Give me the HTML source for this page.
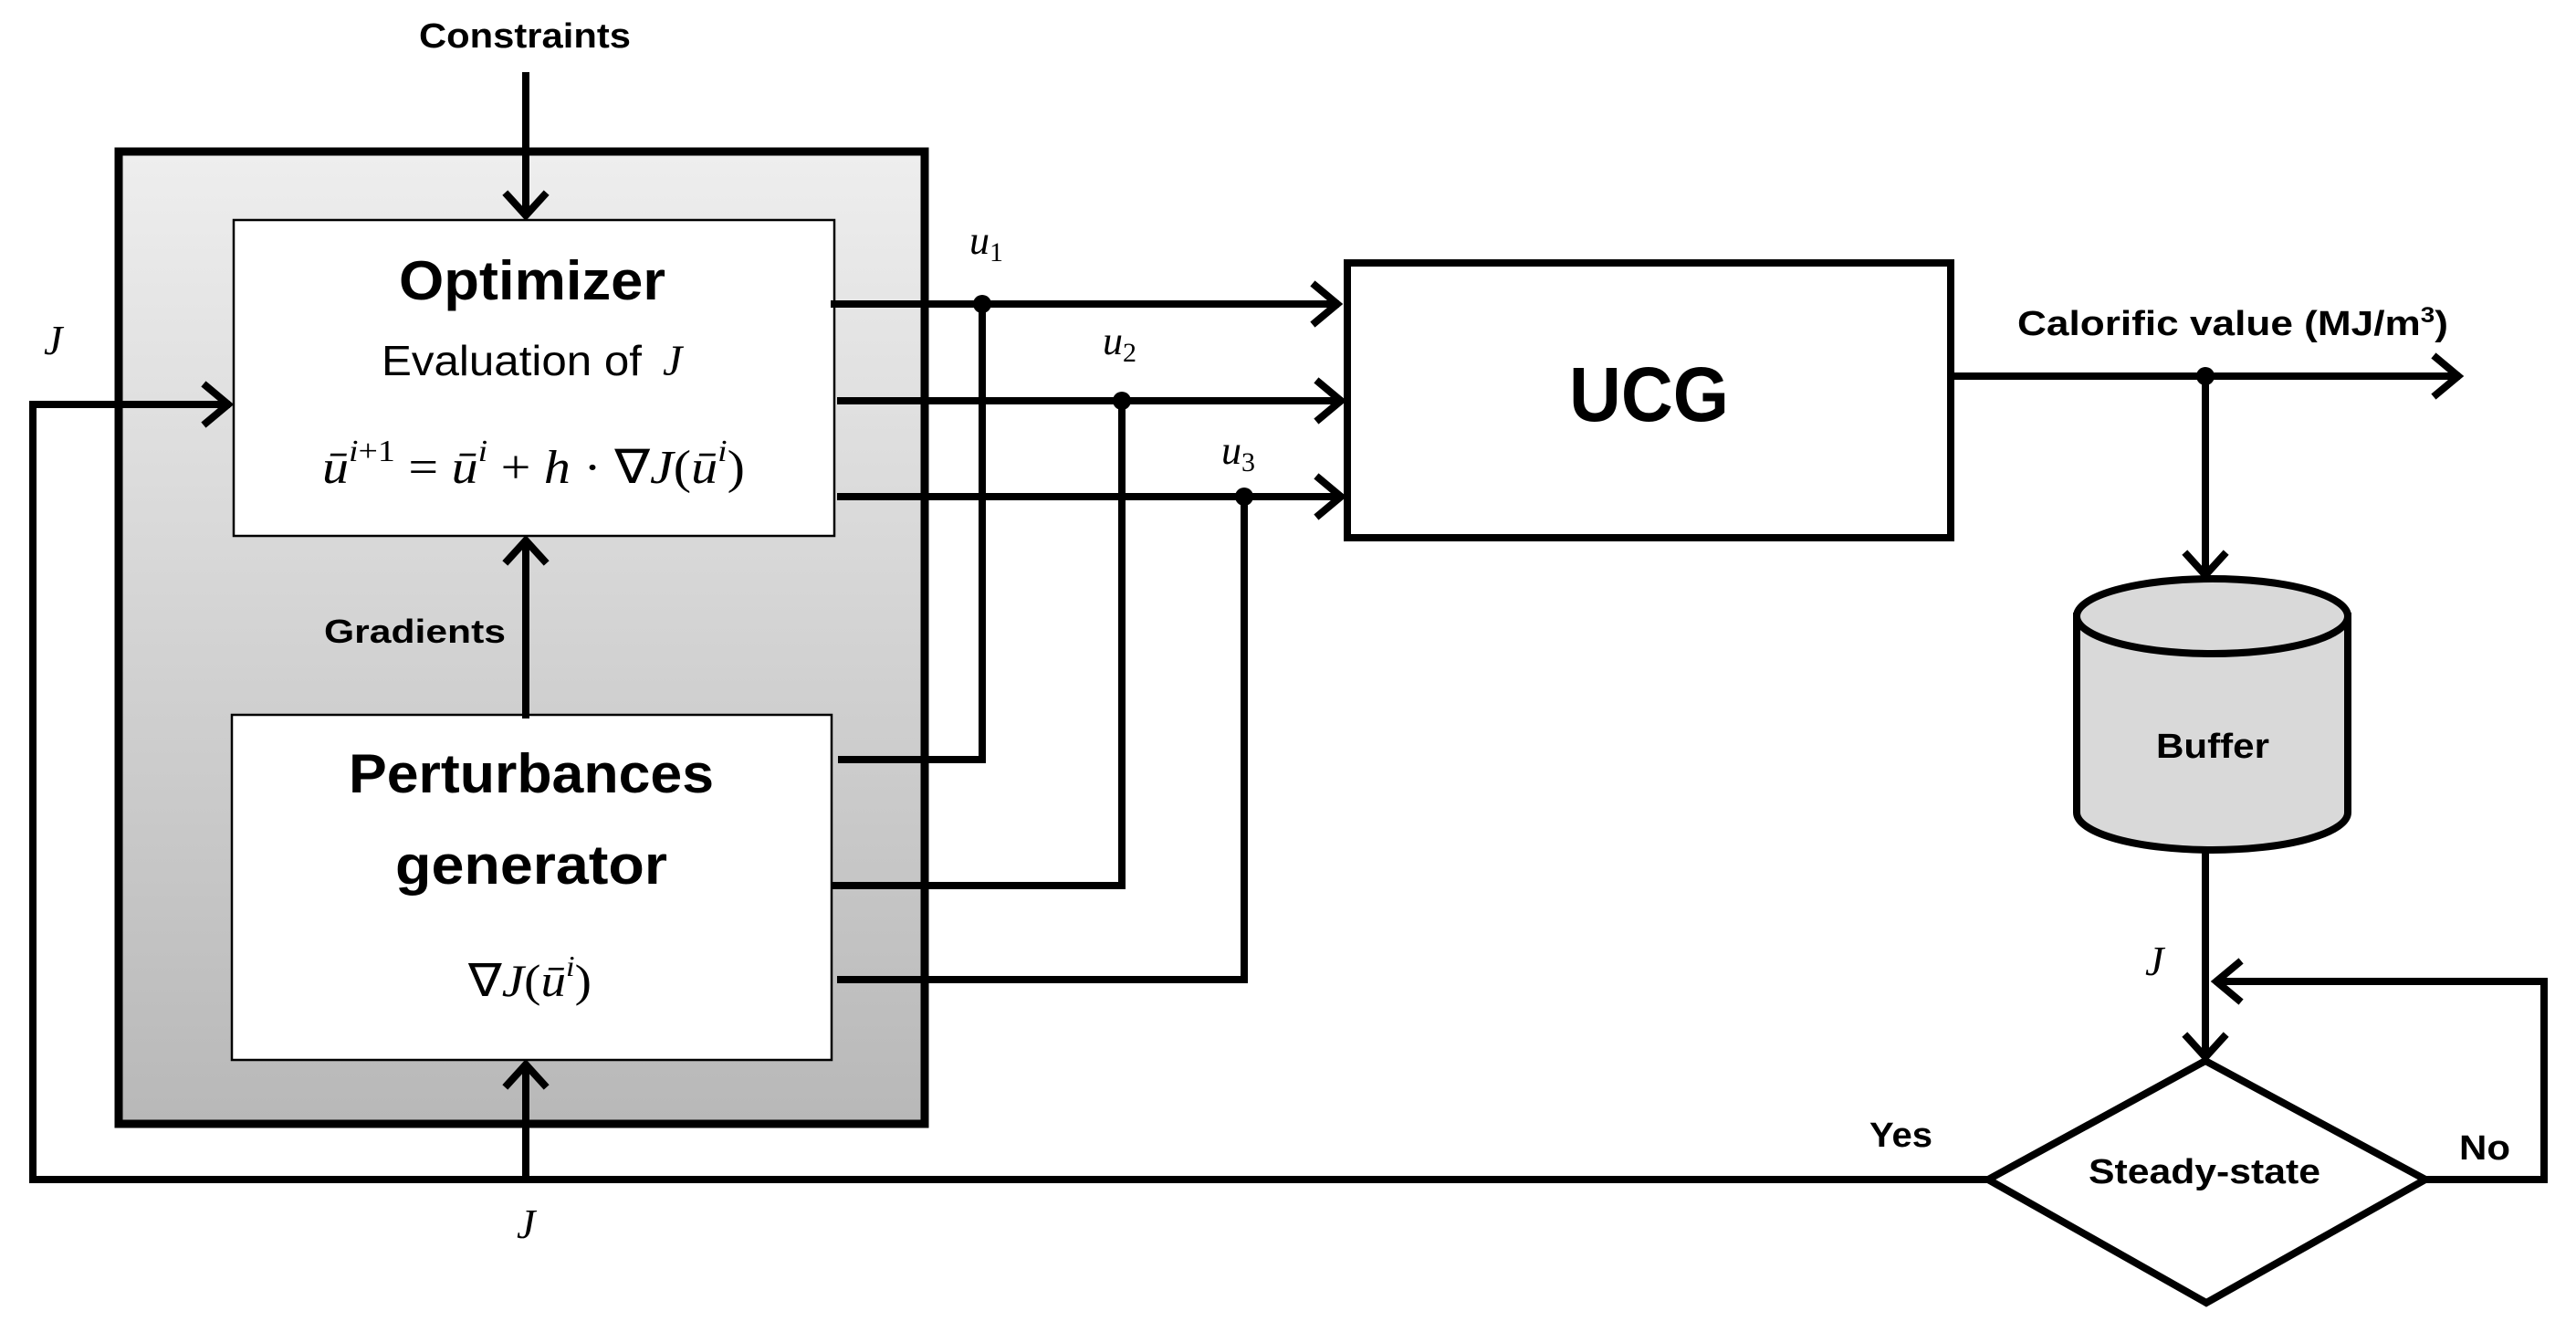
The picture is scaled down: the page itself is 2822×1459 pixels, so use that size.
<!DOCTYPE html>
<html><head><meta charset="utf-8"><style>
html,body{margin:0;padding:0;background:#fff;}
svg{display:block;}
.b{font-family:"Liberation Sans",sans-serif;font-weight:bold;fill:#000;}
.r{font-family:"Liberation Sans",sans-serif;fill:#000;}
.m{font-family:"Liberation Serif",serif;font-style:italic;fill:#000;}
.mn{font-family:"Liberation Serif",serif;font-style:normal;fill:#000;}
</style></head><body>
<svg width="2822" height="1459" viewBox="0 0 2822 1459" xmlns="http://www.w3.org/2000/svg">
<defs>
<linearGradient id="g" x1="0" y1="0" x2="0" y2="1">
<stop offset="0" stop-color="#eeeeee"/><stop offset="1" stop-color="#b8b8b8"/>
</linearGradient>
</defs>
<g stroke="#000" stroke-width="8" fill="none" stroke-linecap="square">
<rect x="130" y="166" width="883" height="1065" fill="url(#g)" stroke-width="9"/>
<rect x="256" y="241" width="658" height="346" fill="#fff" stroke-width="2.5"/>
<rect x="254" y="783" width="657" height="378" fill="#fff" stroke-width="2.5"/>
<line x1="576" y1="83" x2="576" y2="234"/>
<polyline points="556,214 576,236 596,214"/>
<line x1="576" y1="783" x2="576" y2="594"/>
<polyline points="556,614 576,592 596,614"/>
<line x1="576" y1="1292" x2="576" y2="1168"/>
<polyline points="556,1188 576,1166 596,1188"/>
<polyline points="2178,1292 36,1292 36,443 248,443"/>
<polyline points="226,423 250,443 226,463"/>
<line x1="914" y1="333" x2="1463" y2="333"/>
<polyline points="1441,313 1465,333 1441,353"/>
<polyline points="1076,333 1076,832 922,832"/>
<line x1="921" y1="439" x2="1467" y2="439"/>
<polyline points="1445,419 1469,439 1445,459"/>
<polyline points="1229,439 1229,970 914,970"/>
<line x1="921" y1="544" x2="1467" y2="544"/>
<polyline points="1445,524 1469,544 1445,564"/>
<polyline points="1363,544 1363,1073 921,1073"/>
<rect x="1476" y="288" width="661" height="301" fill="#fff"/>
<line x1="2137" y1="412" x2="2691" y2="412"/>
<polyline points="2669,392 2693,412 2669,432"/>
<line x1="2416" y1="412" x2="2416" y2="628"/>
<polyline points="2396,608 2416,630 2436,608"/>
<path d="M2275,675 L2275,890 A148.5,41 0 0 0 2572,890 L2572,675" fill="#d9d9d9"/>
<ellipse cx="2423.5" cy="675" rx="148.5" ry="41" fill="#d9d9d9"/>
<line x1="2416" y1="932" x2="2416" y2="1156"/>
<polyline points="2396,1136 2416,1158 2436,1136"/>
<polygon points="2416,1162 2657,1292 2417,1427 2178,1292" fill="#fff"/>
<polyline points="2657,1292 2787,1292 2787,1075 2430,1075"/>
<polyline points="2452,1055 2428,1075 2452,1095"/>
</g>
<g fill="#000">
<circle cx="1076" cy="333" r="10"/>
<circle cx="1229" cy="439" r="10"/>
<circle cx="1363" cy="544" r="10"/>
<circle cx="2416" cy="412" r="10"/>
</g>
<text class="b" x="459" y="52" font-size="38" textLength="232" lengthAdjust="spacingAndGlyphs">Constraints</text>
<text class="b" x="437" y="328" font-size="60" textLength="292" lengthAdjust="spacingAndGlyphs">Optimizer</text>
<text class="r" x="418" y="411" font-size="46" textLength="285" lengthAdjust="spacingAndGlyphs">Evaluation of</text>
<text class="m" x="726" y="411" font-size="48">J</text>
<text class="m" x="353" y="529" font-size="52" textLength="463" lengthAdjust="spacingAndGlyphs">ū<tspan font-size="34" dy="-24">i</tspan><tspan font-size="34" class="mn">+1</tspan><tspan dy="24" class="mn"> = </tspan>ū<tspan font-size="34" dy="-24">i</tspan><tspan dy="24" class="mn"> + </tspan>h<tspan class="mn"> · ∇</tspan>J<tspan class="mn">(</tspan>ū<tspan font-size="34" dy="-24">i</tspan><tspan dy="24" class="mn">)</tspan></text>
<text class="b" x="355" y="704" font-size="36" textLength="199" lengthAdjust="spacingAndGlyphs">Gradients</text>
<text class="b" x="382" y="868" font-size="60" textLength="400" lengthAdjust="spacingAndGlyphs">Perturbances</text>
<text class="b" x="433" y="968" font-size="60" textLength="298" lengthAdjust="spacingAndGlyphs">generator</text>
<text class="m" x="513" y="1091" font-size="50" textLength="135" lengthAdjust="spacingAndGlyphs"><tspan class="mn">∇</tspan>J<tspan class="mn">(</tspan>ū<tspan font-size="32" dy="-22">i</tspan><tspan dy="22" class="mn">)</tspan></text>
<text class="m" x="48" y="388" font-size="46">J</text>
<text class="m" x="566" y="1356" font-size="46">J</text>
<text class="m" x="2350" y="1068" font-size="46">J</text>
<text class="m" x="1062" y="278" font-size="44">u<tspan font-size="30" dy="8" class="mn">1</tspan></text>
<text class="m" x="1208" y="388" font-size="44">u<tspan font-size="30" dy="8" class="mn">2</tspan></text>
<text class="m" x="1338" y="508" font-size="44">u<tspan font-size="30" dy="8" class="mn">3</tspan></text>
<text class="b" x="1719" y="461" font-size="84" textLength="175" lengthAdjust="spacingAndGlyphs">UCG</text>
<text class="b" x="2210" y="367" font-size="38" textLength="472" lengthAdjust="spacingAndGlyphs">Calorific value (MJ/m<tspan font-size="24" dy="-14">3</tspan><tspan dy="14">)</tspan></text>
<text class="b" x="2362" y="830" font-size="38" textLength="124" lengthAdjust="spacingAndGlyphs">Buffer</text>
<text class="b" x="2288" y="1296" font-size="38" textLength="254" lengthAdjust="spacingAndGlyphs">Steady-state</text>
<text class="b" x="2048" y="1256" font-size="38" textLength="69" lengthAdjust="spacingAndGlyphs">Yes</text>
<text class="b" x="2694" y="1270" font-size="38" textLength="56" lengthAdjust="spacingAndGlyphs">No</text>
</svg>
</body></html>
